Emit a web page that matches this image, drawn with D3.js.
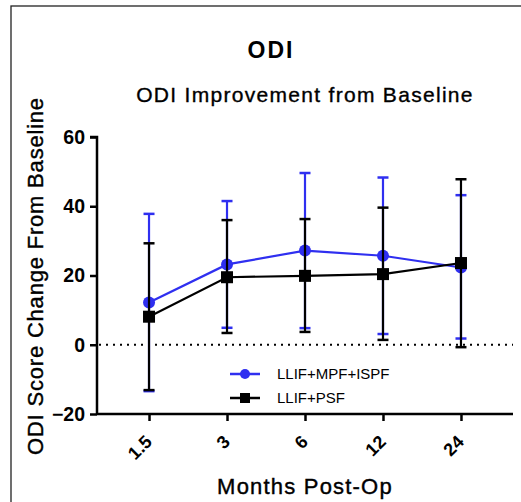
<!DOCTYPE html>
<html><head><meta charset="utf-8">
<script src="https://cdn.jsdelivr.net/npm/d3@7/dist/d3.min.js"></script>
<style>body{margin:0;background:#fff}svg{display:block}text{font-family:Arial,"Liberation Sans",sans-serif}</style>
</head><body>
<svg id="c" width="521" height="502"></svg>
<script>
const months = ["1.5","3","6","12","24"];
const yTicks = [-20, 0, 20, 40, 60];
const seriesNames = ["LLIF+MPF+ISPF", "LLIF+PSF"];
const blueMean  = [12.2, 23.2, 27.2, 25.7, 22.3];
const blueUpper = [37.8, 41.5, 49.6, 48.3, 43.2];
const blueLower = [-13.4, 4.9, 4.8, 3.1, 1.8];
const blackMean  = [8.1, 19.5, 19.9, 20.4, 23.6];
const blackUpper = [29.3, 36.0, 36.3, 39.6, 47.8];
const blackLower = [-13.1, 3.4, 3.7, 1.4, -0.7];

const BLUE = "#2f2ff0", BLACK = "#000";
const svg = d3.select("#c");
svg.append("rect").attr("x",11).attr("y",6).attr("width",530).attr("height",520)
  .attr("fill","none").attr("stroke","#222").attr("stroke-width",1.3);

const x = d3.scalePoint().domain(months).range([97,513]).padding(0.667);
const y = d3.scaleLinear().domain([-20,60]).range([414,137]);

// titles
svg.append("text").attr("x",271).attr("y",58).attr("text-anchor","middle")
  .attr("font-size",23).attr("font-weight","bold").attr("letter-spacing",2).text("ODI");
svg.append("text").attr("x",305).attr("y",102).attr("text-anchor","middle")
  .attr("font-size",21).attr("letter-spacing",1.3).attr("stroke","#000").attr("stroke-width",0.35)
  .text("ODI Improvement from Baseline");

// zero line
svg.append("line").attr("x1",99).attr("x2",513).attr("y1",y(0)).attr("y2",y(0))
  .attr("stroke","#000").attr("stroke-width",2).attr("stroke-dasharray","2,5");

// axes
const yAxis = svg.append("g").attr("transform","translate(97,0)")
  .call(d3.axisLeft(y).tickValues(yTicks).tickSize(7).tickPadding(5).tickFormat(d3.format("d")));
yAxis.select(".domain").attr("stroke-width",2.5).attr("d",`M-7,${y(60)}H0V${y(-20)}`);
yAxis.selectAll(".tick line").attr("stroke-width",2.5);
yAxis.selectAll(".tick text").attr("font-size",19.5).attr("font-weight","bold")
  .attr("font-family","Arial, Liberation Sans, sans-serif").attr("fill","#000");

const xAxis = svg.append("g").attr("transform",`translate(0,${y(-20)})`)
  .call(d3.axisBottom(x).tickSize(7).tickFormat(""));
xAxis.select(".domain").attr("stroke-width",2.5).attr("d","M97,0H513");
xAxis.selectAll(".tick line").attr("stroke-width",2.5);
svg.append("g").selectAll("text").data(months).join("text")
  .attr("transform",d=>`translate(${x(d)+4},443) rotate(-45)`)
  .attr("text-anchor","end").attr("font-size",18).attr("font-weight","bold").text(d=>d);

// axis labels
svg.append("text").attr("transform","translate(43,276) rotate(-90)").attr("text-anchor","middle")
  .attr("font-size",22).attr("letter-spacing",0.8).attr("stroke","#000").attr("stroke-width",0.4)
  .text("ODI Score Change From Baseline");
svg.append("text").attr("x",305).attr("y",494).attr("text-anchor","middle")
  .attr("font-size",22).attr("letter-spacing",1.2).attr("stroke","#000").attr("stroke-width",0.4)
  .text("Months Post-Op");

function drawSeries(mean, up, lo, color, square){
  const g = svg.append("g");
  const cap = 5.5;
  months.forEach((m,i)=>{
    const cx = x(m);
    g.append("line").attr("x1",cx).attr("x2",cx).attr("y1",y(up[i])).attr("y2",y(lo[i]))
      .attr("stroke",color).attr("stroke-width",2.2);
    [up[i], lo[i]].forEach(v=>g.append("line").attr("x1",cx-cap).attr("x2",cx+cap)
      .attr("y1",y(v)).attr("y2",y(v)).attr("stroke",color).attr("stroke-width",2.5));
  });
  const line = d3.line().x((d,i)=>x(months[i])).y(d=>y(d));
  g.append("path").attr("d",line(mean)).attr("fill","none").attr("stroke",color).attr("stroke-width",2.2);
  if(square){
    g.selectAll("rect").data(mean).join("rect")
      .attr("x",(d,i)=>x(months[i])-6).attr("y",d=>y(d)-6).attr("width",12).attr("height",12).attr("fill",color);
  } else {
    g.selectAll("circle").data(mean).join("circle")
      .attr("cx",(d,i)=>x(months[i])).attr("cy",d=>y(d)).attr("r",6).attr("fill",color);
  }
}
drawSeries(blueMean, blueUpper, blueLower, BLUE, false);
drawSeries(blackMean, blackUpper, blackLower, BLACK, true);

// legend
const leg = svg.append("g");
[[374, BLUE, false],[398, BLACK, true]].forEach(([ly,col,sq],i)=>{
  leg.append("line").attr("x1",230).attr("x2",260).attr("y1",ly).attr("y2",ly).attr("stroke",col).attr("stroke-width",2.5);
  if(sq) leg.append("rect").attr("x",240).attr("y",ly-5).attr("width",10).attr("height",10).attr("fill",col);
  else leg.append("circle").attr("cx",245).attr("cy",ly).attr("r",5).attr("fill",col);
  leg.append("text").attr("x",277).attr("y",ly+5).attr("font-size",15).text(seriesNames[i]);
});
</script>
</body></html>
